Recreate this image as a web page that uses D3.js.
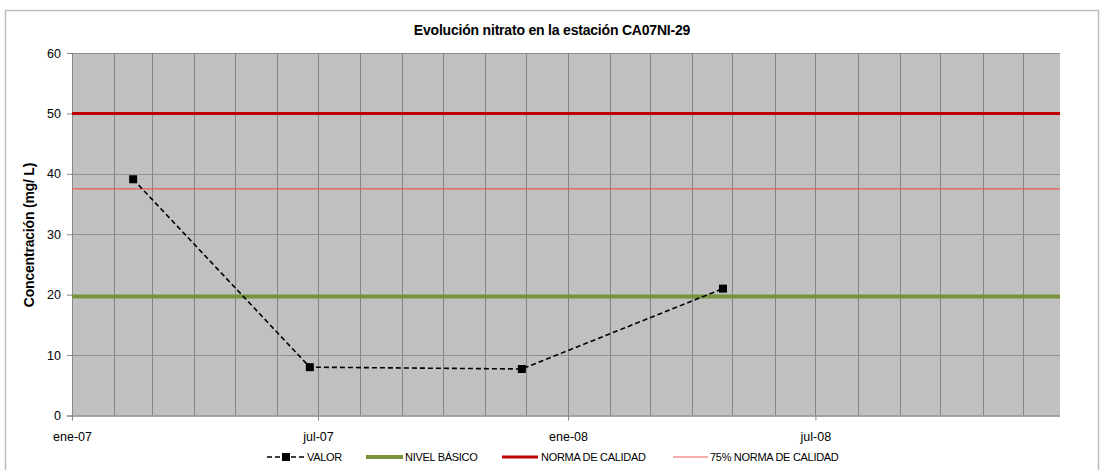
<!DOCTYPE html>
<html><head><meta charset="utf-8">
<script src="https://cdn.jsdelivr.net/npm/d3@7"></script>
<style>body{margin:0;background:#fff;font-family:"Liberation Sans",Arial,sans-serif}</style>
</head><body><svg id="c" width="1103" height="470"></svg>
<script>
const sampleDates = ["2007-02-15","2007-06-25","2007-11-28","2008-04-24"];
const valor = [39.1, 8.0, 7.7, 21.0];
const nivelBasico = 19.7;
const normaCalidad = 50;
const norma75 = 37.5;
const yTicks = [0,10,20,30,40,50,60];
const xTickDates = ["2007-01-01","2007-07-01","2008-01-01","2008-07-01"];
const xTickLabels = ["ene-07","jul-07","ene-08","jul-08"];
const legendLabels = ["VALOR","NIVEL BÁSICO","NORMA DE CALIDAD","75% NORMA DE CALIDAD"];

const parse = d3.utcParse("%Y-%m-%d");
const svg = d3.select("#c");
const L=72,R=1060,T=53,B=415.5;
svg.append("rect").attr("x",5.5).attr("y",10.5).attr("width",1093).attr("height",470).attr("fill","#fff").attr("stroke","#bdbdbd").attr("stroke-width",1.5);

const x = d3.scaleUtc().domain([parse("2007-01-01"), parse("2008-12-28")]).range([L,R]);
const y = d3.scaleLinear().domain([0,60]).range([B,T]);

svg.append("rect").attr("x",L).attr("y",T).attr("width",R-L).attr("height",B-T).attr("fill","#c0c0c0");
const months = d3.utcMonth.range(parse("2007-02-01"), parse("2008-12-28"));
svg.append("g").selectAll("line").data(months).join("line")
  .attr("x1",d=>Math.round(x(d))+0.5).attr("x2",d=>Math.round(x(d))+0.5).attr("y1",T).attr("y2",B)
  .attr("stroke","#858585").attr("stroke-width",1);
svg.append("g").selectAll("line").data(yTicks.slice(1)).join("line")
  .attr("x1",L).attr("x2",R).attr("y1",d=>Math.round(y(d))+0.5).attr("y2",d=>Math.round(y(d))+0.5)
  .attr("stroke","#8f8f8f").attr("stroke-width",1);

const ya = svg.append("g").attr("transform",`translate(${L},0)`).call(d3.axisLeft(y).tickValues(yTicks).tickSize(5).tickPadding(6));
ya.select(".domain").attr("stroke","#888");
ya.selectAll(".tick line").attr("stroke","#888");
ya.selectAll("text").attr("font-family","Liberation Sans, Arial").attr("font-size",12.5).attr("fill","#000");
const xa = svg.append("g").attr("transform",`translate(0,${B})`).call(d3.axisBottom(x).tickValues(xTickDates.map(parse)).tickFormat((d,i)=>xTickLabels[i]).tickSize(5).tickPadding(12));
xa.select(".domain").attr("stroke","#888").attr("stroke-width",1.5).attr("d",`M${L},0.5H${R}`);
xa.selectAll(".tick line").attr("stroke","#888");
xa.selectAll("text").attr("font-family","Liberation Sans, Arial").attr("font-size",12.5).attr("fill","#000");

svg.append("line").attr("x1",L).attr("x2",R).attr("y1",y(nivelBasico)).attr("y2",y(nivelBasico)).attr("stroke","#77933c").attr("stroke-width",4);
svg.append("line").attr("x1",L).attr("x2",R).attr("y1",y(normaCalidad)).attr("y2",y(normaCalidad)).attr("stroke","#c00000").attr("stroke-width",3);
svg.append("line").attr("x1",L).attr("x2",R).attr("y1",y(norma75)).attr("y2",y(norma75)).attr("stroke","#e85858").attr("stroke-width",1.2);

const pts = sampleDates.map((d,i)=>({d:parse(d),v:valor[i]}));
svg.append("path").datum(pts).attr("d",d3.line().x(p=>x(p.d)).y(p=>y(p.v)))
  .attr("fill","none").attr("stroke","#000").attr("stroke-width",1.6).attr("stroke-dasharray","5,3");
svg.append("g").selectAll("rect").data(pts).join("rect")
  .attr("x",p=>x(p.d)-4).attr("y",p=>y(p.v)-4).attr("width",8).attr("height",8).attr("fill","#000");

svg.append("text").attr("x",552).attr("y",35).attr("text-anchor","middle").attr("font-weight","bold")
  .attr("font-size",14).attr("letter-spacing",-0.2).text("Evolución nitrato en la estación CA07NI-29");
svg.append("text").attr("transform","translate(34,235) rotate(-90)").attr("text-anchor","middle").attr("font-weight","bold")
  .attr("font-size",14).attr("letter-spacing",-0.2).text("Concentración (mg/ L)");

const lg = svg.append("g").attr("font-size",11).attr("letter-spacing",-0.3);
const ly = 457;
lg.append("line").attr("x1",267).attr("x2",304).attr("y1",ly).attr("y2",ly).attr("stroke","#000").attr("stroke-width",1.6).attr("stroke-dasharray","5,3");
lg.append("rect").attr("x",282).attr("y",ly-4).attr("width",8).attr("height",8).attr("fill","#000");
lg.append("text").attr("x",307).attr("y",ly+4).text(legendLabels[0]);
lg.append("line").attr("x1",366).attr("x2",403).attr("y1",ly).attr("y2",ly).attr("stroke","#77933c").attr("stroke-width",4);
lg.append("text").attr("x",405).attr("y",ly+4).text(legendLabels[1]);
lg.append("line").attr("x1",502).attr("x2",538).attr("y1",ly).attr("y2",ly).attr("stroke","#c00000").attr("stroke-width",3);
lg.append("text").attr("x",541).attr("y",ly+4).text(legendLabels[2]);
lg.append("line").attr("x1",673).attr("x2",708).attr("y1",ly).attr("y2",ly).attr("stroke","#e85858").attr("stroke-width",1.2);
lg.append("text").attr("x",710).attr("y",ly+4).text(legendLabels[3]);
</script></body></html>
